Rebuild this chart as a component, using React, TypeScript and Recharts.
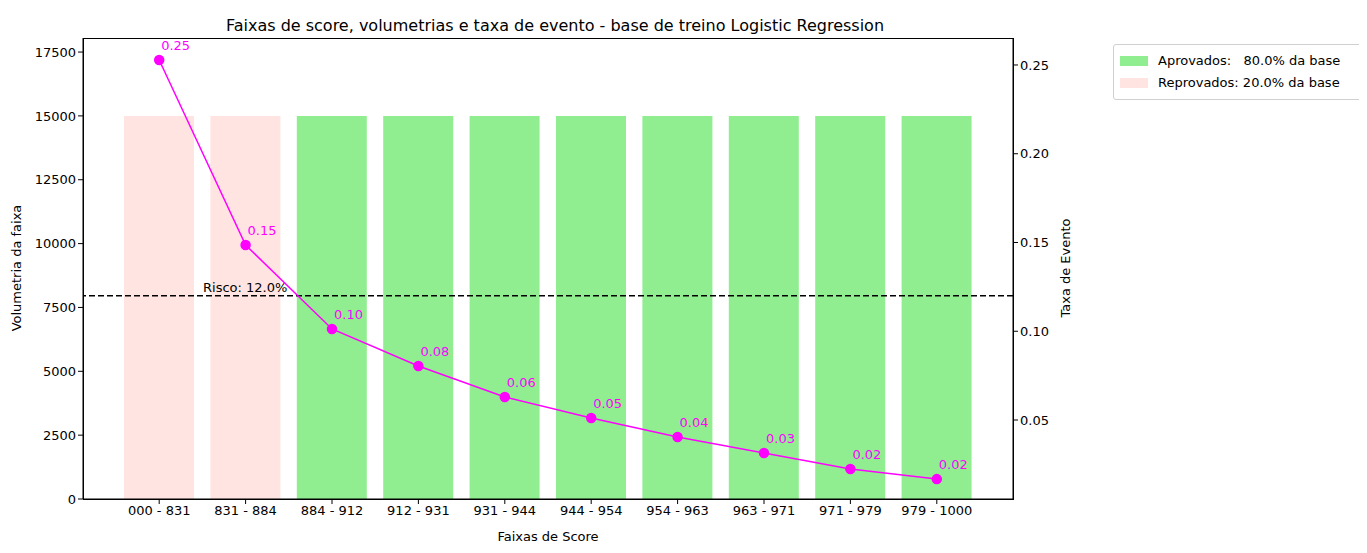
import { ComposedChart, Bar, Line, XAxis, YAxis, ReferenceLine, LabelList, Cell } from "recharts";

const faixas = ["000 - 831", "831 - 884", "884 - 912", "912 - 931", "931 - 944", "944 - 954", "954 - 963", "963 - 971", "971 - 979", "979 - 1000"];
const volumes = [15000, 15000, 15000, 15000, 15000, 15000, 15000, 15000, 15000, 15000];
const taxas = [0.2528, 0.1486, 0.1013, 0.0804, 0.063, 0.0511, 0.0404, 0.0314, 0.0224, 0.0167];
const aprovado = [false, false, true, true, true, true, true, true, true, true];
const leftTicks = [0, 2500, 5000, 7500, 10000, 12500, 15000, 17500];
const rightTicks = [0.05, 0.1, 0.15, 0.2, 0.25];
const risco = 0.12;

const data = faixas.map((f, i) => ({ faixa: f, volume: volumes[i], taxa: taxas[i], aprovado: aprovado[i] }));

const font = "DejaVu Sans, sans-serif";
const tick = { fontSize: 13, fill: "#000", fontFamily: font };

const RateLabel = (p: any) => (
  <text x={p.x + 2} y={p.y - 10} fill="#ff00ff" fontSize={13} fontFamily={font}>
    {Number(p.value).toFixed(2)}
  </text>
);

const RiskLabel = (p: any) => (
  <text x={p.viewBox.x + 120} y={p.viewBox.y - 4} fill="#000" fontSize={13} fontFamily={font}>
    Risco: 12.0%
  </text>
);

const VertLabel = ({ x, y, text }: { x: number; y: number; text: string }) => (
  <text x={x} y={y} transform={`rotate(-90 ${x} ${y})`} textAnchor="middle" dominantBaseline="central" fill="#000" fontSize={13} fontFamily={font}>
    {text}
  </text>
);

export default function App() {
  return (
    <div style={{ position: "relative", width: 1359, height: 545, fontFamily: font }}>
      <div style={{ position: "absolute", left: 0, top: 8, width: 1094, textAlign: "center", fontSize: 16 }}>
        Faixas de score, volumetrias e taxa de evento - base de treino Logistic Regression
      </div>
      <ComposedChart width={1359} height={545} data={data} margin={{ top: 30, right: 294, left: 0, bottom: 0 }}>
        <XAxis dataKey="faixa" height={54} tick={tick} padding={{ left: 33, right: 33 }} stroke="#000" tickSize={5}
          label={{ value: "Faixas de Score", position: "insideBottom", offset: 12, fill: "#000", fontSize: 13, fontFamily: font }} />
        <YAxis yAxisId="l" width={75} domain={[0, 18050]} ticks={leftTicks} tick={tick} stroke="#000" tickSize={5} interval={0}
          label={() => <VertLabel x={8} y={260} text="Volumetria da faixa" />} />
        <YAxis yAxisId="r" orientation="right" width={60} domain={[0.0055, 0.2652]} ticks={rightTicks} tick={tick} stroke="#000" tickSize={5} interval={0}
          tickFormatter={(v: number) => v.toFixed(2)}
          label={() => <VertLabel x={1057} y={260} text="Taxa de Evento" />} />
        <Bar yAxisId="l" dataKey="volume" barSize={70} isAnimationActive={false}>
          {data.map((d, i) => (
            <Cell key={i} fill={d.aprovado ? "#90ee90" : "#ffe4e1"} />
          ))}
        </Bar>
        <ReferenceLine yAxisId="r" y={risco} stroke="#000" strokeWidth={1.5} strokeDasharray="6 3" label={<RiskLabel />} />
        <Line yAxisId="r" dataKey="taxa" stroke="#ff00ff" strokeWidth={1.5} dot={{ r: 4.5, fill: "#ff00ff", stroke: "#ff00ff" }} isAnimationActive={false}>
          <LabelList dataKey="taxa" content={<RateLabel />} />
        </Line>
      </ComposedChart>
      <div style={{ position: "absolute", left: 75, top: 30, width: 929, height: 460, border: "1px solid #000", pointerEvents: "none" }} />
      <div style={{ position: "absolute", left: 1105, top: 36, width: 243, padding: "5px 6px", border: "1px solid #d0d0d0", borderRadius: 3, fontSize: 13, lineHeight: "22px", background: "#fff" }}>
        <div style={{ display: "flex", alignItems: "center" }}>
          <span style={{ display: "inline-block", width: 28, height: 10, background: "#90ee90", marginRight: 10 }} />
          <span style={{ whiteSpace: "pre" }}>Aprovados:   80.0% da base</span>
        </div>
        <div style={{ display: "flex", alignItems: "center" }}>
          <span style={{ display: "inline-block", width: 28, height: 10, background: "#ffe4e1", marginRight: 10 }} />
          <span>Reprovados: 20.0% da base</span>
        </div>
      </div>
    </div>
  );
}
